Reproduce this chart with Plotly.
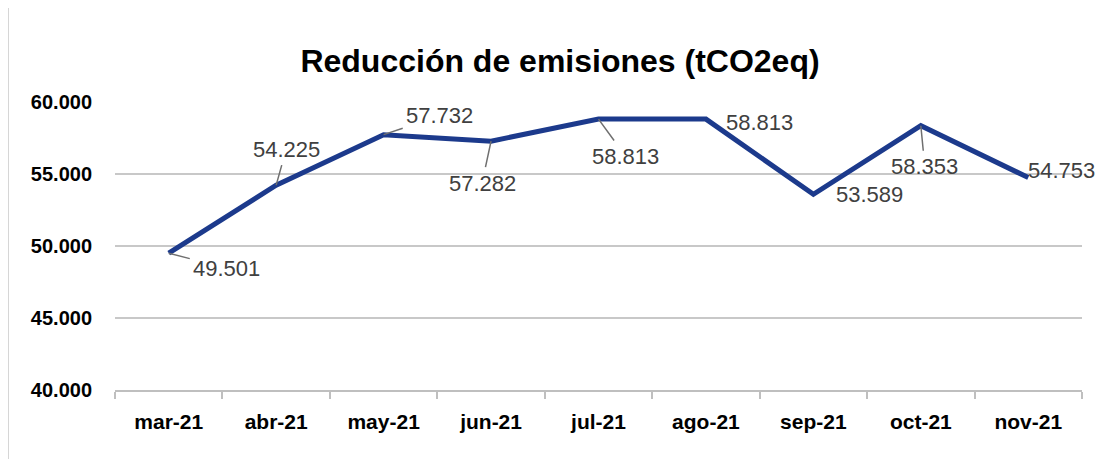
import plotly.graph_objects as go

months = ["mar-21", "abr-21", "may-21", "jun-21", "jul-21", "ago-21", "sep-21", "oct-21", "nov-21"]
values = [49501, 54225, 57732, 57282, 58813, 58813, 53589, 58353, 54753]
labels = ["49.501", "54.225", "57.732", "57.282", "58.813", "58.813", "53.589", "58.353", "54.753"]
y_ticks = [40000, 45000, 50000, 55000, 60000]
y_tick_text = ["40.000", "45.000", "50.000", "55.000", "60.000"]

# label offsets (pixels, right / down) and whether a leader line is drawn
offsets = [(58, 15, True), (10, -36, True), (56, -19, True), (-9, 42, True), (27, 37, True),
           (54, 3, False), (56, 0, False), (4, 41, True), (33, -7, False)]

fig = go.Figure()
fig.add_trace(go.Scatter(x=months, y=values, mode="lines",
                         line=dict(color="#1C3A8C", width=5), hoverinfo="skip"))

lab_font = dict(family="Liberation Sans", size=22, color="#404040")
annos = []
for m, v, t, (dx, dy, arrow) in zip(months, values, labels, offsets):
    if arrow:
        annos.append(dict(x=m, y=v, xref="x", yref="y", text=t, showarrow=True,
                          ax=dx, ay=dy, arrowhead=0, arrowwidth=1.5, arrowcolor="#6f6f6f",
                          standoff=0, startstandoff=2, font=lab_font))
    else:
        annos.append(dict(x=m, y=v, xref="x", yref="y", text=t, showarrow=False,
                          xshift=dx, yshift=-dy, font=lab_font))

# page has an 8px body margin: figure occupies x 8..1103, y 8..459
W, H = 1095, 451
fig.update_layout(
    width=W, height=H,
    margin=dict(l=107, r=21, t=94, b=69),
    paper_bgcolor="white", plot_bgcolor="white",
    showlegend=False,
    title=dict(text="<b>Reducción de emisiones (tCO2eq)</b>", x=552 / W, xanchor="center",
               y=1 - 52.5 / H, yanchor="middle",
               font=dict(family="Liberation Sans", size=32, color="black")),
    annotations=annos,
    shapes=[dict(type="rect", xref="paper", yref="paper",
                 x0=(8 - 115) / 967, x1=1.1, y0=(390 - 480) / 288, y1=(390 - 7) / 288,
                 line=dict(color="#d6d6d6", width=2), fillcolor="rgba(0,0,0,0)", layer="below")],
)
fig.update_xaxes(type="category", range=[-0.5, 8.5], automargin=False, showgrid=False,
                 showline=True, linecolor="#bfbfbf", linewidth=2,
                 ticks="outside", tickson="boundaries", ticklen=7, tickcolor="#bfbfbf", tickwidth=2,
                 ticklabelstandoff=12,
                 tickfont=dict(family="Liberation Sans", size=21, color="black", weight="bold"))
fig.update_yaxes(range=[40000, 60000], automargin=False, tickvals=y_ticks, ticktext=y_tick_text,
                 showgrid=True, gridcolor="#c8c8c8", gridwidth=2, zeroline=False, showline=False,
                 ticks="", ticklabelstandoff=22,
                 tickfont=dict(family="Liberation Sans", size=20, color="black", weight="bold"))

fig.write_html("out.html")
